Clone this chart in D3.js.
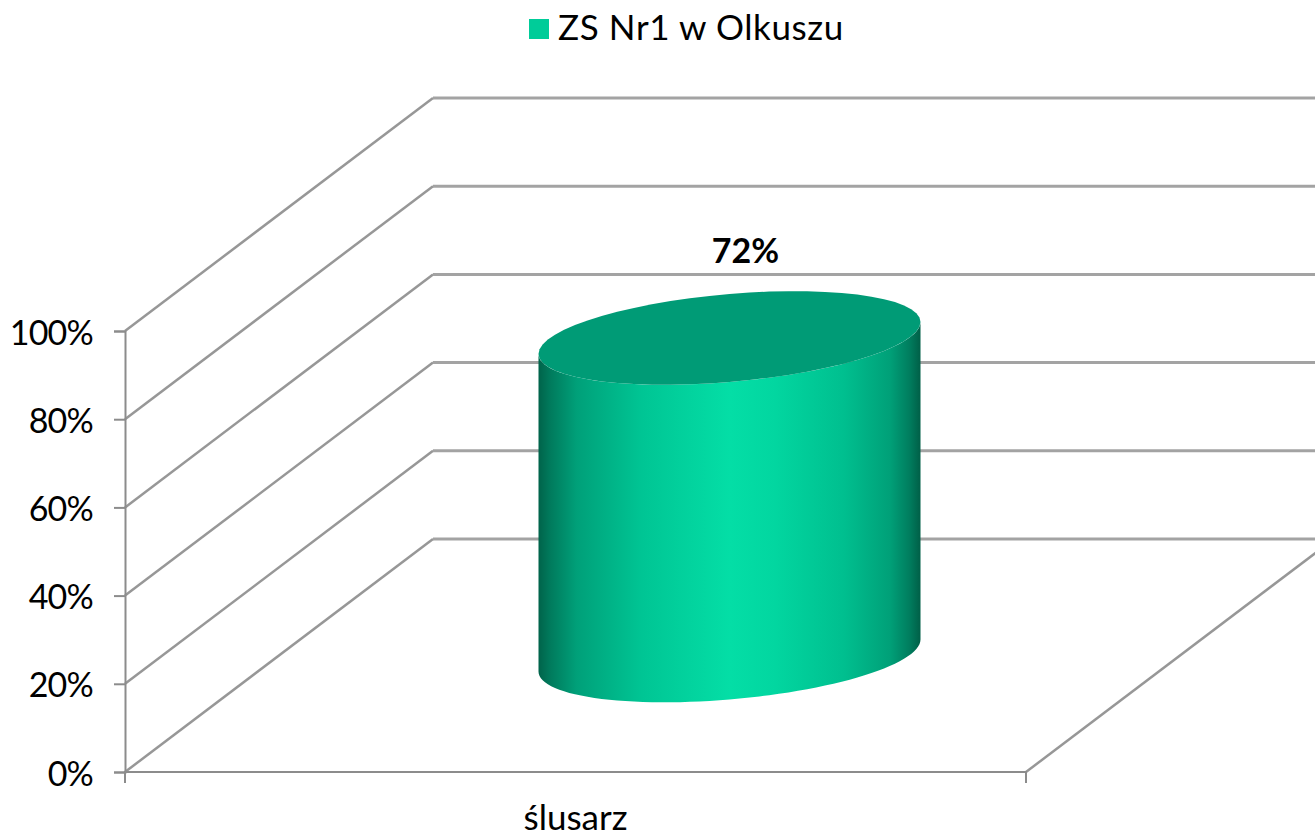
<!DOCTYPE html>
<html>
<head>
<meta charset="utf-8">
<script src="https://cdn.jsdelivr.net/npm/d3@7"></script>
<style>
  html, body { margin: 0; padding: 0; background: #fff; }
  svg { display: block; }
  text { font-family: Lato, "Open Sans", sans-serif; fill: #000; }
</style>
</head>
<body>
<div id="graph"></div>
<script>
const categories = ["ślusarz"];
const seriesName = "ZS Nr1 w Olkuszu";
const seriesValues = [72];
const yTicks = [0, 20, 40, 60, 80, 100];

const width = 1315, height = 836;
// offset of the back wall from the front plane
const depth = { x: 308, y: -233 };

const xScale = d3.scaleBand().domain(categories).range([125, 1026]);
const yScale = d3.scaleLinear().domain([0, 100]).range([772, 331]);

const svg = d3.select("#graph").append("svg")
  .attr("width", width)
  .attr("height", height);

const gridColor = "#8c8c8c";
const wallColor = "#a3a3a3";

// gradient round the cylinder
const grad = svg.append("defs").append("linearGradient")
  .attr("id", "cyl")
  .attr("x1", "0").attr("x2", "1").attr("y1", "0").attr("y2", "0");
[[0, "#00634a"], [0.03, "#007a5c"], [0.1, "#00a079"], [0.27, "#00c594"], [0.5, "#04dea6"],
 [0.62, "#02d6a0"], [0.8, "#00bf8f"], [0.92, "#00a078"], [0.97, "#007e5f"], [1, "#005f47"]]
  .forEach(function (s) {
    grad.append("stop").attr("offset", s[0]).attr("stop-color", s[1]);
  });

// walls: grid lines run along the side wall, then across the back
const grid = svg.append("g");
yTicks.forEach(function (t) {
  const y = yScale(t);
  grid.append("line")
    .attr("x1", xScale.range()[0]).attr("y1", y)
    .attr("x2", xScale.range()[0] + depth.x).attr("y2", y + depth.y)
    .attr("stroke", "#979797").attr("stroke-width", 2.5);
  grid.append("line")
    .attr("x1", xScale.range()[0] + depth.x).attr("y1", y + depth.y)
    .attr("x2", xScale.range()[1] + depth.x).attr("y2", y + depth.y)
    .attr("stroke", wallColor).attr("stroke-width", 3);
});
// floor, right edge
grid.append("line")
  .attr("x1", xScale.range()[1]).attr("y1", yScale(0))
  .attr("x2", xScale.range()[1] + depth.x).attr("y2", yScale(0) + depth.y)
  .attr("stroke", "#979797").attr("stroke-width", 2.5);

// y axis
const yAxis = svg.append("g")
  .attr("transform", "translate(" + xScale.range()[0] + ",0)")
  .call(d3.axisLeft(yScale).tickValues(yTicks).tickSize(11).tickPadding(21)
    .tickFormat(function (d) { return d + "%"; }));
yAxis.selectAll("path").attr("stroke", gridColor).attr("stroke-width", 2);
yAxis.selectAll("line").attr("stroke", gridColor).attr("stroke-width", 2);
yAxis.selectAll("text")
  .attr("font-size", 34)
  .attr("font-family", "Lato")
  .attr("letter-spacing", "-0.8px")
  .attr("dy", 13);

// x axis
const xAxis = svg.append("g")
  .attr("transform", "translate(0," + yScale(0) + ")")
  .call(d3.axisBottom(xScale).tickSize(0).tickPadding(0));
xAxis.select("path").attr("stroke", gridColor).attr("stroke-width", 2)
  .attr("d", "M" + xScale.range()[0] + ",11V0H" + xScale.range()[1] + "V11");
xAxis.selectAll("text")
  .attr("font-size", 35)
  .attr("font-family", "Lato")
  .attr("y", 0)
  .attr("dy", 58);

// cylinders
const rx = 191, skew = 16, ry = 44;
function ellipsePoints(cx, cy, from, to) {
  return d3.range(0, 61).map(function (i) {
    const a = from + (to - from) * i / 60;
    return [cx + rx * Math.cos(a), cy - skew * Math.cos(a) + ry * Math.sin(a)];
  });
}
const line = d3.line();

categories.forEach(function (c, i) {
  const cx = xScale(c) + xScale.bandwidth() / 2 + depth.x / 2;
  const yTop = yScale(seriesValues[i]) + depth.y / 2;
  const yBase = yScale(0) + depth.y / 2;

  // body: front half of the base ellipse, closed over the top
  const bottom = ellipsePoints(cx, yBase, 0, Math.PI);
  const top = ellipsePoints(cx, yTop, Math.PI, 0);
  svg.append("path")
    .attr("d", line(bottom.concat(top)) + "Z")
    .attr("fill", "url(#cyl)");

  svg.append("path")
    .attr("d", line(ellipsePoints(cx, yTop, 0, 2 * Math.PI)) + "Z")
    .attr("fill", "#009b76");

  svg.append("text")
    .attr("x", cx + 16)
    .attr("y", yTop - 75)
    .attr("text-anchor", "middle")
    .attr("font-size", 34)
    .attr("font-weight", "bold")
    .text(seriesValues[i] + "%");
});

// legend
svg.append("rect")
  .attr("x", 529).attr("y", 19).attr("width", 20).attr("height", 20)
  .attr("fill", "#00cc99");
svg.append("text")
  .attr("x", 558).attr("y", 40)
  .attr("font-size", 35)
  .attr("letter-spacing", "0.6px")
  .text(seriesName);
</script>
</body>
</html>
